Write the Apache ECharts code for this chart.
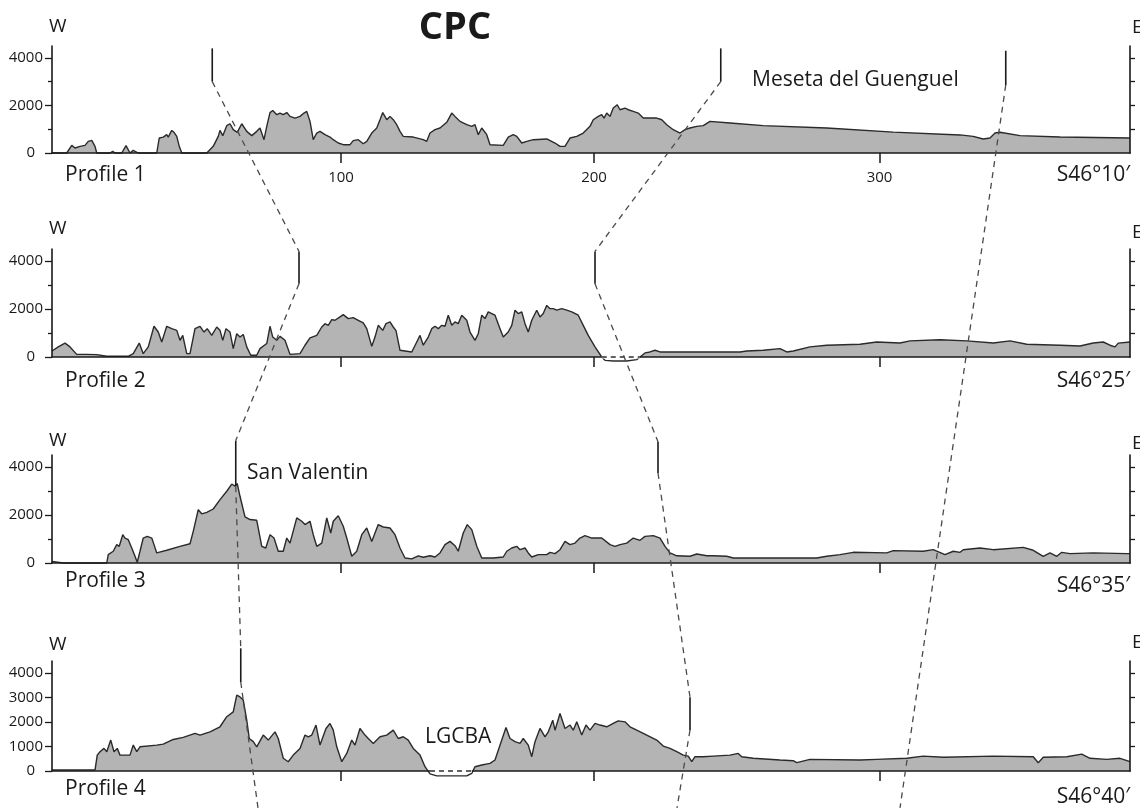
<!DOCTYPE html>
<html><head><meta charset="utf-8">
<script src="https://cdn.jsdelivr.net/npm/echarts@6/dist/echarts.min.js"></script>
<style>html,body{margin:0;padding:0;background:#fff}#c{width:1140px;height:808px}</style>
</head><body><div id="c"></div>
<script>
// ---- DATA (distance along profile, elevation m) ----
const profile1 = [[0,0],[5.9,0],[6.5,70],[7.9,320],[9.2,210],[11.2,280],[13.2,320],[14.5,490],[15.9,530],[17.2,280],
[17.9,0],[23.2,0],[24.3,70],[25.2,0],[27.9,0],[29.6,310],[31.2,0],[32.5,110],[34.5,0],[41.9,0],
[42.9,630],[44.5,670],[45.9,770],[46.5,670],[47.9,950],[48.8,870],[49.9,700],[50.9,280],[51.9,0],[61.9,0],
[64.5,280],[66.5,700],[67.2,950],[68.3,730],[69.9,1150],[71.2,1230],[72.5,980],[74.1,870],[75.9,1230],[77.9,910],
[79.9,730],[81.9,910],[83.2,1050],[84.8,560],[85.9,1120],[87.2,1700],[88.3,1790],[89.9,1610],[91.2,1680],[92.5,1610],
[93.9,1700],[95.2,1540],[97.2,1470],[99.2,1540],[100.8,1680],[101.9,1750],[103.2,1330],[104.5,560],[105.9,840],[107.2,910],
[109.2,770],[111.2,670],[112.5,560],[114.5,420],[116.5,350],[119.2,350],[120.5,520],[122.5,560],[124.5,390],[125.9,490],
[127.9,840],[129.9,1050],[131.2,1400],[132.3,1700],[133.9,1400],[135.2,1540],[136.5,1400],[137.9,1190],[139.2,910],[140.5,700],
[144.5,670],[148.5,560],[149.9,490],[151.2,840],[153.2,980],[155.2,1050],[157.9,1290],[159.9,1680],[161.2,1540],[163.2,1330],
[165.9,1190],[167.9,1120],[169.2,1190],[170.5,770],[171.9,1050],[173.9,770],[175.2,350],[180.5,320],[182.5,670],[184.5,770],
[185.9,700],[187.9,420],[189.9,490],[192.5,560],[197.9,590],[201.2,420],[203.2,280],[205.2,280],[207.2,630],[209.9,700],
[212.5,840],[215.2,1120],[216.5,1400],[218.5,1540],[219.9,1610],[220.8,1470],[221.9,1680],[223.2,1540],[224.5,1890],[226.1,2030],
[227.2,1820],[229.2,1890],[230.5,1820],[232.5,1750],[234.5,1680],[236.5,1470],[241.9,1470],[243.9,1400],[245.9,1190],[248.5,980],
[251.2,840],[253.2,980],[255.2,1050],[257.9,1120],[260.5,1150],[263.2,1330],[271.2,1260],[284.5,1150],[309.9,1050],[336.5,880],
[363.2,760],[368.5,700],[372.5,590],[375.2,630],[377.2,840],[379.2,870],[387.2,730],[403.2,670],[431.2,630]];

const profile2 = [[0,250],[2.5,420],[5.2,580],[7.2,420],[9.9,110],[13.9,110],[17.9,100],[21.9,30],[30.5,30],[32.5,140],
[34.9,580],[36.5,140],[38.5,420],[40.8,1280],[42.5,1040],[43.9,625],[45.9,1280],[47.9,1180],[49.9,1110],[51.2,695],
[52.3,900],[53.9,140],[55.2,140],[57.2,1180],[59.2,1280],[60.8,1040],[62.1,1180],[63.9,900],[65.9,1250],[67.2,1110],
[68.3,695],[69.6,1180],[71.2,1040],[72.5,350],[73.9,970],[75.2,830],[76.5,940],[77.9,420],[79.5,70],[81.9,70],
[83.2,350],[85.9,560],[87.2,1280],[88.3,830],[89.9,695],[91.2,860],[93.2,695],[95.2,110],[99.2,140],[101.2,490],
[103.2,800],[105.9,900],[107.9,1250],[109.2,1390],[110.5,1320],[111.9,1560],[113.2,1530],[115.2,1670],[116.5,1765],[118.5,1600],
[120.5,1640],[122.5,1530],[124.5,1420],[125.9,1180],[127.9,445],[129.2,830],[130.5,1320],[132.3,1110],[133.6,1390],[135.2,1460],
[136.5,1250],[137.6,1100],[139.2,280],[143.9,210],[145.9,625],[147.2,900],[148.5,490],[150.5,830],[151.9,1180],[153.2,1280],
[154.5,1180],[155.9,1320],[157.2,1280],[158.5,1740],[159.9,1320],[161.2,1460],[162.5,1390],[163.9,1740],[165.9,1530],[167.2,1040],
[169.2,695],[170.5,970],[171.9,1740],[173.2,1600],[174.5,1880],[175.9,1810],[177.2,1740],[179.2,1180],[180.5,830],[182.5,1040],
[183.9,1320],[185.2,1950],[186.5,1810],[187.9,1880],[189.2,1390],[190.5,1040],[191.9,1530],[193.9,1950],[195.2,1670],[196.5,1810],
[197.9,2150],[199.2,2015],[200.5,2015],[201.9,1950],[203.9,2015],[205.9,1950],[207.9,1880],[210.5,1740],[212.5,1320],[214.5,900],
[217.2,420],[219.9,0],[221.2,-140],[224.5,-165],[229.9,-165],[233.9,-110],[235.2,0],[237.2,170],[239.2,210],[241.2,280],
[243.2,210],[251.2,210],[264.5,210],[275.2,210],[277.9,250],[284.5,280],[291.2,350],[293.9,210],[296.5,250],[303.2,420],
[309.9,490],[323.2,530],[329.9,625],[339.2,585],[343.2,670],[355.2,720],[365.9,670],[376.5,585],[383.2,670],[389.9,530],
[403.2,490],[411.2,460],[416.5,585],[420.5,625],[423.2,490],[425.2,420],[426.5,580],[431.2,625]];

const profile3 = [[0,70],[4.5,0],[21.9,0],[22.5,350],[24.5,490],[25.9,765],[26.9,695],[28.3,1180],[29.2,1040],[30.5,970],
[31.9,625],[33.2,280],[34.1,30],[35.2,490],[36.5,1040],[38.1,1110],[39.9,1040],[40.8,765],[41.9,420],[45.9,530],
[51.2,695],[55.2,800],[56.5,1320],[58.5,2220],[59.9,2050],[61.9,2110],[64.5,2250],[67.2,2640],[69.9,2990],[71.9,3290],
[73.2,3200],[74.1,3310],[75.2,2780],[77.2,1920],[79.2,1810],[81.9,1780],[83.9,695],[85.5,625],[87.2,1180],[88.8,1040],
[90.5,490],[92.5,490],[93.9,1040],[95.2,830],[97.9,1880],[99.9,1740],[101.2,1600],[103.2,1740],[104.5,1180],[105.9,695],
[107.9,830],[109.9,1880],[111.5,1250],[112.5,1740],[114.5,1970],[116.5,1530],[117.9,1040],[119.9,280],[121.9,490],[123.9,1180],
[125.9,1460],[127.9,900],[130.5,1600],[132.5,1500],[135.2,1460],[137.2,1180],[139.2,625],[141.2,210],[143.9,170],[146.5,300],
[148.5,240],[151.2,300],[153.2,250],[155.2,420],[157.2,765],[159.2,900],[161.2,720],[162.5,490],[164.5,1250],[166.1,1600],
[167.9,1390],[169.9,695],[171.9,210],[176.5,210],[180.5,250],[181.9,490],[183.9,625],[185.9,695],[187.2,555],[189.2,625],
[190.5,420],[191.9,250],[194.5,350],[197.9,350],[199.2,445],[201.2,390],[203.2,555],[205.2,900],[207.2,765],[209.2,830],
[211.2,1040],[213.2,1140],[215.9,1040],[219.9,1040],[223.2,765],[225.2,695],[227.2,765],[229.9,830],[232.5,1040],[235.2,945],
[237.2,1110],[240.5,1140],[243.2,1040],[245.2,695],[247.2,420],[249.9,300],[255.2,280],[257.9,375],[261.9,300],[264.5,300],
[269.9,280],[272.5,210],[291.2,210],[305.9,210],[309.9,280],[315.2,350],[320.5,445],[333.9,420],[336.5,515],[348.5,490],
[352.5,555],[357.2,350],[360.5,490],[363.2,445],[364.5,555],[371.2,625],[376.5,555],[388.5,650],[392.5,530],[396.5,280],
[399.2,420],[401.9,280],[403.9,445],[407.2,390],[416.5,420],[429.9,390],[431.2,390]];

const profile4 = [[0,40],[17.2,40],[18.1,650],[19.2,790],[20.8,925],[21.9,790],[23.5,1265],[24.8,790],[26.1,925],[27.2,650],
[31.2,650],[32.5,1060],[33.9,790],[35.2,990],[41.9,1060],[44.5,1100],[48.5,1290],[52.5,1375],[57.2,1540],[59.2,1470],
[63.2,1600],[67.2,1810],[69.9,2220],[72.5,2420],[73.9,3100],[75.2,3030],[76.5,2900],[77.9,2080],[78.9,1330],[80.5,1200],
[81.9,990],[84.5,1470],[86.5,1265],[89.2,1600],[90.5,1330],[92.5,520],[94.5,380],[96.5,650],[99.2,925],[101.2,1470],
[102.5,1400],[103.9,1470],[105.6,1880],[107.2,1060],[109.6,1740],[111.2,1945],[112.5,1670],[113.9,990],[115.9,380],[117.9,720],
[119.9,1265],[121.2,1060],[123.2,1740],[125.2,1470],[126.5,1330],[128.5,1130],[131.2,1400],[133.9,1470],[136.5,1670],[138.5,1330],
[140.5,1400],[142.5,1265],[144.5,925],[147.2,650],[149.2,175],[151.2,-120],[153.9,-200],[165.9,-200],[167.9,-95],[169.2,175],
[171.9,245],[175.2,310],[177.2,450],[179.9,1265],[181.6,1780],[183.2,1330],[185.2,1200],[187.2,1130],[188.5,1330],[190.5,1060],
[191.9,585],[193.2,1200],[195.2,1740],[197.2,1400],[198.5,1600],[200.3,2080],[201.2,1670],[203.2,2350],[205.2,1740],[207.2,1880],
[208.5,1670],[209.9,2010],[211.9,1470],[213.6,1880],[215.2,1670],[217.2,1945],[219.2,1880],[221.9,1810],[224.5,1945],[226.5,2050],
[229.2,2010],[231.2,1810],[233.9,1670],[237.9,1470],[241.9,1265],[244.5,1020],[247.2,925],[249.9,790],[252.5,650],[254.5,610],
[255.9,380],[257.2,585],[260.5,585],[264.5,610],[271.2,650],[274.5,720],[275.9,585],[280.5,520],[291.2,450],[296.5,420],
[297.9,340],[303.2,475],[323.2,450],[329.9,475],[341.9,520],[348.5,610],[356.5,560],[376.5,610],[392.5,585],[394.5,340],
[396.5,560],[405.9,585],[411.9,690],[415.2,520],[421.9,475],[427.2,520],[431.2,380]];

// lakes (elevation below 0, dashed water level)
const lakeP2 = [219.9, 235.2];
const lakeP4 = [151.2, 167.9];

// tick values / labels
const xTickKm = [115.6, 216.8, 331.0];
const xTickLabels = ['100', '200', '300'];
const yMajorTicks = [0, 2000, 4000];
const yMinorTicks = [1000, 3000];
const yAllTicks = [0, 1000, 2000, 3000, 4000];
const rightTicks = [1000, 2000, 3000, 4000];
const profileNames = ['Profile 1', 'Profile 2', 'Profile 3', 'Profile 4'];
const latitudes = ['S46°10′', 'S46°25′', 'S46°35′', 'S46°40′'];

// correlation lines: [profileIndex, distance, elevation]; even segments solid, odd dashed
const corrA = [[0,64.1,4400],[0,64.1,3000],[1,98.8,4400],[1,98.8,3050],[2,73.5,5100],[2,73.5,3200],[3,75.5,5020],[3,75.5,3640],[3,82.4,-1510]];
const corrB = [[0,267.5,4400],[0,267.5,3000],[1,217.2,4400],[1,217.2,3050],[2,242.4,5050],[2,242.4,3750],[3,255.2,3020],[3,255.2,1670],[3,250.0,-1510]];
const corrC = [[0,381.5,4300],[0,381.5,2860],[3,339.2,-1510]];

// ---- LAYOUT ----
const FONT = 'Open Sans';
const INK = '#1a1a1a';
const gridTops = [46, 249, 455, 661];
const gridHeights = [107, 108, 108, 110];
const profiles = [profile1, profile2, profile3, profile4];
const lakes = [null, lakeP2, null, lakeP4];

const grids = [], xAxes = [], yAxes = [], series = [], mainY = [];
profiles.forEach((prof, i) => {
  grids.push({left: 52, right: 10, top: gridTops[i], height: gridHeights[i]});
  xAxes.push({
    type: 'value', gridIndex: i, min: 0, max: 431.2, position: 'bottom', z: 5,
    axisLine: {show: true, onZero: false, lineStyle: {color: INK, width: 1.7}},
    axisTick: {show: true, customValues: xTickKm, length: 10, lineStyle: {color: INK, width: 1.5}},
    axisLabel: {show: i === 0, customValues: xTickKm, margin: 17, fontSize: 15, fontFamily: FONT, color: INK,
      formatter: v => { const k = xTickKm.indexOf(v); return k >= 0 ? xTickLabels[k] : ''; }},
    splitLine: {show: false}
  });
  const labelled = i === 3 ? yAllTicks : yMajorTicks;
  mainY.push(yAxes.length);
  yAxes.push({
    type: 'value', gridIndex: i, min: 0, max: 4500, position: 'left', z: 5,
    axisLine: {show: true, lineStyle: {color: INK, width: 1.6}},
    axisTick: {show: true, customValues: labelled, length: 7, lineStyle: {color: INK, width: 1.3}},
    axisLabel: {show: true, customValues: labelled, margin: 9, fontSize: 15, fontFamily: FONT, color: INK,
      formatter: v => v === 0 ? '{z|0}' : String(v),
      rich: {z: {padding: [0, 8, 0, 0], fontSize: 15, fontFamily: FONT, color: INK}}},
    splitLine: {show: false}
  });
  if (i < 3) {
    yAxes.push({
      type: 'value', gridIndex: i, min: 0, max: 4500, position: 'left', z: 5,
      axisLine: {show: false},
      axisTick: {show: true, customValues: yMinorTicks, length: 4, lineStyle: {color: INK, width: 1.3}},
      axisLabel: {show: false}, splitLine: {show: false}
    });
  }
  yAxes.push({
    type: 'value', gridIndex: i, min: 0, max: 4500, position: 'right', z: 5,
    axisLine: {show: true, lineStyle: {color: INK, width: 1.6}},
    axisTick: {show: true, customValues: rightTicks, length: 5, lineStyle: {color: INK, width: 1.3}},
    axisLabel: {show: false}, splitLine: {show: false}
  });
  // filled relief (clipped at 0)
  series.push({type: 'line', xAxisIndex: i, yAxisIndex: mainY[i], data: prof, symbol: 'none', silent: true,
    lineStyle: {width: 0, opacity: 0}, areaStyle: {color: '#b4b4b4', opacity: 1}, z: 2});
  // outline (not clipped so lake bottoms show)
  series.push({type: 'line', xAxisIndex: i, yAxisIndex: mainY[i], data: prof, symbol: 'none', silent: true,
    clip: false, lineStyle: {color: '#2a2a2a', width: 1.4}, z: 3});
  if (lakes[i]) {
    const lk = lakes[i];
    series.push({type: 'line', xAxisIndex: i, yAxisIndex: mainY[i], data: [[lk[0], 0], [lk[1], 0]], symbol: 'none',
      silent: true, clip: false, lineStyle: {color: '#ffffff', width: 3}, z: 8});
    series.push({type: 'line', xAxisIndex: i, yAxisIndex: mainY[i], data: [[lk[0], 0], [lk[1], 0]], symbol: 'none',
      silent: true, clip: false, lineStyle: {color: '#2e2e2e', width: 1.3, type: [5, 4]}, z: 9});
  }
});

const chart = echarts.init(document.getElementById('c'), null, {renderer: 'canvas'});
chart.setOption({animation: false, backgroundColor: '#ffffff', grid: grids, xAxis: xAxes, yAxis: yAxes, series: series});

// ---- text + correlation lines ----
const graphics = [];
function txt(text, x, y, size, align, weight) {
  graphics.push({type: 'text', x: x, y: y, z: 20, silent: true,
    style: {text: text, fontSize: size, fontFamily: FONT, fontWeight: weight || 'normal', fill: INK,
      align: align || 'left', verticalAlign: 'middle'}});
}
txt('CPC', 455, 28, 38, 'center', 'bold');
const wY = [27, 229, 441, 645], eY = [28, 233, 444, 643];
const profY = [175, 381, 581, 789], latY = [175, 381, 586, 797];
for (let i = 0; i < 4; i++) {
  txt('W', 49, wY[i], 19);
  txt('E', 1132, eY[i], 19);
  txt(profileNames[i], 65, profY[i], 21);
  txt(latitudes[i], 1130, latY[i], 21, 'right');
}
txt('Meseta del Guenguel', 752, 80, 21);
txt('San Valentin', 247, 473, 21);
txt('LGCBA', 425, 737, 21);

function toPx(p) {
  return chart.convertToPixel({xAxisIndex: p[0], yAxisIndex: mainY[p[0]]}, [p[1], p[2]]);
}
[corrA, corrB, corrC].forEach(line => {
  for (let k = 0; k < line.length - 1; k++) {
    const a = toPx(line[k]), b = toPx(line[k + 1]);
    const dashed = k % 2 === 1;
    graphics.push({type: 'line', z: 15, silent: true,
      shape: {x1: a[0], y1: a[1], x2: b[0], y2: b[1]},
      style: {stroke: dashed ? '#4a4a4a' : '#1a1a1a', lineWidth: dashed ? 1.3 : 1.6,
        lineDash: dashed ? [6, 5] : null}});
  }
});
chart.setOption({graphic: graphics});
</script>
</body></html>
